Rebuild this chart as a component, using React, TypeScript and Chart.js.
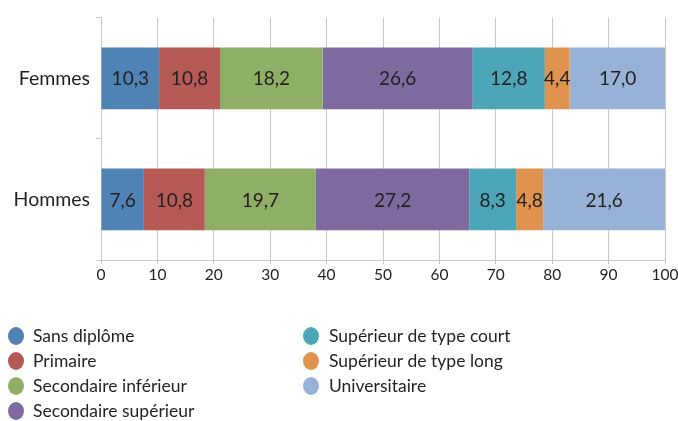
import React, { useEffect, useRef } from "react";
import { Chart, registerables } from "chart.js";

Chart.register(...registerables);

const categories = ["Femmes", "Hommes"];
const seriesNames = [
  "Sans diplôme",
  "Primaire",
  "Secondaire inférieur",
  "Secondaire supérieur",
  "Supérieur de type court",
  "Supérieur de type long",
  "Universitaire",
];
const sansDiplome = [10.3, 7.6];
const primaire = [10.8, 10.8];
const secondaireInferieur = [18.2, 19.7];
const secondaireSuperieur = [26.6, 27.2];
const superieurCourt = [12.8, 8.3];
const superieurLong = [4.4, 4.8];
const universitaire = [17.0, 21.6];
const xTicks = [0, 10, 20, 30, 40, 50, 60, 70, 80, 90, 100];

const colors = ["#4f82b5", "#b65a55", "#8fae66", "#7e6a9e", "#4ca6b8", "#e0934f", "#97b2d6"];
const FONT = "Lato, 'Noto Sans', sans-serif";

export default function App() {
  const ref = useRef<HTMLCanvasElement | null>(null);
  useEffect(() => {
    document.body.style.margin = "0";
    const values = [sansDiplome, primaire, secondaireInferieur, secondaireSuperieur, superieurCourt, superieurLong, universitaire];
    const labelPlugin = {
      id: "labels",
      afterDatasetsDraw(chart: any) {
        const ctx = chart.ctx;
        ctx.save();
        ctx.font = `19px ${FONT}`;
        ctx.fillStyle = "#231f20";
        ctx.textAlign = "center";
        ctx.textBaseline = "middle";
        chart.data.datasets.forEach((ds: any, i: number) => {
          const meta = chart.getDatasetMeta(i);
          meta.data.forEach((bar: any, j: number) => {
            const v = ds.data[j];
            const cx = (bar.x + bar.base) / 2;
            ctx.fillText(v.toFixed(1).replace(".", ","), cx, bar.y + 1);
          });
        });
        ctx.restore();
      },
      afterDraw(chart: any) {
        const ctx = chart.ctx;
        ctx.save();
        ctx.font = `17.5px ${FONT}`;
        ctx.textAlign = "left";
        ctx.textBaseline = "middle";
        const col = [{ cx: 16, tx: 33 }, { cx: 311, tx: 329 }];
        const rows = [336, 361, 386, 411];
        seriesNames.forEach((name, i) => {
          const c = i < 4 ? col[0] : col[1];
          const y = rows[i < 4 ? i : i - 4];
          ctx.fillStyle = colors[i];
          ctx.beginPath();
          ctx.ellipse(c.cx, y, 8, 9, 0, 0, Math.PI * 2);
          ctx.fill();
          ctx.fillStyle = "#231f20";
          ctx.fillText(name, c.tx, y);
        });
        ctx.restore();
      },
    };
    const chart = new Chart(ref.current!, {
      type: "bar",
      data: {
        labels: categories,
        datasets: seriesNames.map((n, i) => ({
          label: n,
          data: values[i],
          backgroundColor: colors[i],
          borderWidth: 0,
          barPercentage: 0.51,
          categoryPercentage: 1,
        })),
      },
      options: {
        indexAxis: "y",
        animation: false,
        responsive: false,
        maintainAspectRatio: false,
        layout: { padding: { top: 15, left: 0, right: 13, bottom: 130 } },
        plugins: { legend: { display: false }, tooltip: { enabled: false } },
        scales: {
          x: {
            stacked: true,
            min: 0,
            max: 100,
            afterBuildTicks: (s: any) => { s.ticks = xTicks.map((v) => ({ value: v })); },
            afterFit: (s: any) => { s.height = 31; s.paddingRight = 0; s.paddingLeft = 0; },
            grid: { color: "#c8c8c8", lineWidth: 1, drawTicks: true, tickLength: 4 },
            border: { color: "#c8c8c8" },
            ticks: { color: "#231f20", font: { family: FONT, size: 15.5 }, padding: 2, maxRotation: 0 },
          },
          y: {
            stacked: true,
            afterFit: (s: any) => { s.width = 101; },
            grid: { drawOnChartArea: false, offset: true, color: "#c8c8c8", tickLength: 5 },
            border: { color: "#c8c8c8" },
            ticks: { color: "#231f20", font: { family: FONT, size: 19.5 }, padding: 6 },
          },
        },
      },
      plugins: [labelPlugin],
    } as any);
    return () => chart.destroy();
  }, []);
  return <canvas ref={ref} width={678} height={421} style={{ display: "block", width: 678, height: 421 }} />;
}
